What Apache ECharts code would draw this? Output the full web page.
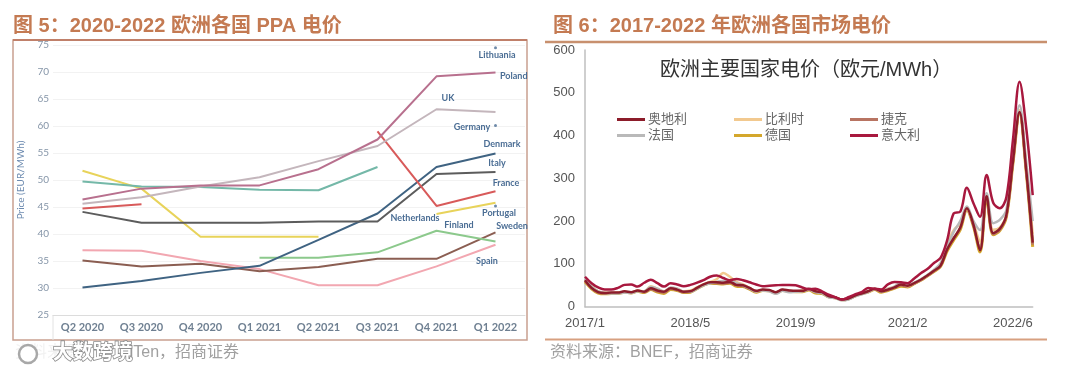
<!DOCTYPE html>
<html><head><meta charset="utf-8">
<script src="https://cdn.jsdelivr.net/npm/echarts@6/dist/echarts.min.js"></script>
<style>html,body{margin:0;padding:0;background:#fff}#c{width:1080px;height:374px}</style>
</head><body><div id="c"></div>
<script>
// ---------- Figure 5: PPA prices (EUR/MWh) ----------
const ppaQuarters = ['Q2 2020','Q3 2020','Q4 2020','Q1 2021','Q2 2021','Q3 2021','Q4 2021','Q1 2022'];
const ppaYTicks = [25,30,35,40,45,50,55,60,65,70,75];
const ppaPoland      = [46.4, 48.4, 49.0, 49.0, 52.0, 57.5, 69.2, 69.9];
const ppaUK          = [45.6, 46.8, 48.8, 50.5, 53.5, 56.3, 63.1, 62.6];
const ppaFrance      = [44.7, 45.5, null, null, null, 59.0, 45.2, 47.9];
const ppaItaly       = [44.1, 42.1, 42.1, 42.1, 42.3, 42.3, 51.1, 51.5];
const ppaDenmark     = [30.1, 31.3, 32.8, 34.1, 38.9, 43.8, 52.4, 54.9];
const ppaGermany     = [49.7, 48.8, 48.7, 48.2, 48.1, 52.4, null, null];
const ppaNetherlands = [51.7, 48.4, 39.5, 39.5, 39.5, null, 43.7, 45.8];
const ppaFinland     = [null, null, null, 35.6, 35.6, 36.6, 40.6, 38.6];
const ppaSweden      = [35.1, 34.0, 34.5, 33.1, 33.9, 35.4, 35.4, 40.3];
const ppaSpain       = [37.0, 36.9, 35.0, 33.5, 30.5, 30.5, 34.0, 38.0];
const ppaLithuaniaPt = [null, null, null, null, null, null, null, 74.5];
const ppaGermanyPt   = [null, null, null, null, null, null, null, 60.1];
const ppaPortugalPt  = [null, null, null, null, null, null, null, 45.2];

// ---------- Figure 6: market prices (EUR/MWh), monthly ----------
const mktMonths = [];
for (let y = 2017; y <= 2022; y++) for (let m = 1; m <= 12; m++) { if (y === 2022 && m > 9) break; mktMonths.push(y + '/' + m); }
const mktTickLabels = ['2017/1','2018/5','2019/9','2021/2','2022/6'];
const mktYTicks = [0,100,200,300,400,500,600];
const mktAustria = [62,44,34,32,33,33,36,34,38,35,43,38, 35,43,40,35,36,44,52,57,57,56,58,51, 50,44,37,40,39,34,40,38,37,37,42,36, 34,25,22,17,19,26,31,36,42,36,40,45, 52,49,55,63,73,84,96,134,160,185,230,192, 132,258,172,182,214,340,455,322,150];
const mktBelgium = [64,48,36,33,32,33,34,33,37,36,48,42, 36,44,42,36,38,45,52,58,64,79,70,58, 52,44,36,38,37,32,38,36,36,38,41,36, 34,24,21,16,18,25,30,35,42,37,42,46, 54,48,55,63,73,85,100,150,179,195,228,195, 152,260,180,185,215,345,460,330,170];
const mktCzech   = [60,43,33,31,32,32,35,33,37,34,41,36, 33,42,39,34,35,43,51,56,55,54,56,50, 48,42,35,39,38,33,39,37,36,36,40,34, 32,24,21,16,18,25,30,35,41,35,39,44, 50,47,54,62,72,83,95,134,160,184,228,190, 135,257,170,180,212,338,455,320,145];
const mktFrance  = [65,47,36,32,31,31,33,32,36,36,46,42, 35,45,42,35,35,42,50,55,58,60,62,55, 50,43,36,38,36,30,37,34,35,36,40,34, 32,22,20,15,17,24,29,34,42,36,41,47, 56,50,56,64,74,86,102,140,175,200,234,200, 179,265,195,203,226,358,471,340,200];
const mktGermany = [58,42,32,30,31,31,34,32,36,33,40,34, 31,40,38,33,34,42,50,55,54,53,55,48, 47,41,34,38,37,32,38,36,35,35,39,32, 31,23,21,16,18,25,30,34,40,34,38,43, 48,46,54,62,72,82,94,130,156,180,226,188, 128,255,168,178,210,335,452,318,140];
const mktItaly   = [70,55,45,40,40,44,51,52,47,56,63,55, 47,55,52,48,51,56,62,70,73,67,62,65, 62,57,52,48,49,50,51,51,50,45,41,42, 36,28,22,17,22,29,34,44,42,40,52,58, 57,55,66,78,88,102,114,155,218,222,278,242, 210,308,243,230,256,390,526,420,261];

const CJK = "'Liberation Sans','Noto Sans CJK SC',sans-serif";
const LAT = "Lato,'Liberation Sans',sans-serif";

function ppaLine(name, data, color) {
  return { name, type: 'line', xAxisIndex: 0, yAxisIndex: 0, data, symbol: 'none',
    connectNulls: false, lineStyle: { color, width: 2 }, itemStyle: { color }, z: 3 };
}
function ppaDot(name, data) {
  return { name, type: 'scatter', xAxisIndex: 0, yAxisIndex: 0, data, symbolSize: 3,
    itemStyle: { color: '#4a6d94' }, z: 4 };
}
function mktLine(name, data, color, width) {
  return { name, type: 'line', xAxisIndex: 1, yAxisIndex: 1, data, symbol: 'none',
    smooth: 0.35, lineStyle: { color, width: width || 2.5 }, itemStyle: { color } };
}

const annot = [
  ['Lithuania', 497, 55, 'center'], ['Poland', 500, 76, 'left'],
  ['UK', 448, 98, 'center'], ['Germany', 472, 127, 'center'], ['Denmark', 502, 144, 'center'],
  ['Italy', 497, 163, 'center'], ['France', 506, 183, 'center'], ['Netherlands', 415, 218, 'center'],
  ['Portugal', 499, 213, 'center'], ['Finland', 459, 225, 'center'], ['Sweden', 512, 226, 'center'],
  ['Spain', 487, 261, 'center']
];

const graphics = [
  { type: 'text', left: 13, top: 16, style: { text: '图 5：2020-2022 欧洲各国 PPA 电价', font: 'bold 20px ' + CJK, fill: '#c47a52' } },
  { type: 'text', left: 553, top: 16, style: { text: '图 6：2017-2022 年欧洲各国市场电价', font: 'bold 20px ' + CJK, fill: '#c47a52' } },
  { type: 'rect', shape: { x: 13, y: 40, width: 514, height: 300 }, style: { fill: 'none', stroke: '#c9a090', lineWidth: 1.5 } },
  { type: 'line', shape: { x1: 13, y1: 40, x2: 527, y2: 40 }, style: { stroke: '#c0806a', lineWidth: 2 } },
  { type: 'line', shape: { x1: 53, y1: 315, x2: 53, y2: 340 }, style: { stroke: '#e2e2e2', lineWidth: 1 } },
  { type: 'line', shape: { x1: 545, y1: 42, x2: 1047, y2: 42 }, style: { stroke: '#c8906e', lineWidth: 2.5 } },
  { type: 'line', shape: { x1: 545, y1: 339.5, x2: 1047, y2: 339.5 }, style: { stroke: '#d7a080', lineWidth: 2 } },
  { type: 'text', left: 15, top: 345, style: { text: '资料来源：LevelTen，招商证券', font: '16px ' + CJK, fill: '#a0a0a0' } },
  { type: 'text', left: 550, top: 345, style: { text: '资料来源：BNEF，招商证券', font: '16px ' + CJK, fill: '#a0a0a0' } },
  { type: 'rect', shape: { x: 10, y: 342, width: 118, height: 24 }, style: { fill: 'rgba(255,255,255,0.85)' }, z: 20 },
  { type: 'circle', shape: { cx: 28, cy: 354, r: 9 }, style: { fill: '#fff', stroke: '#a8a8a8', lineWidth: 2.5 }, z: 21 },
  { type: 'text', left: 52, top: 343, z: 21, style: { text: '大数跨境', font: 'bold 20px ' + CJK, fill: '#ffffff', stroke: '#8c8c8c', lineWidth: 1.6 } }
];
annot.forEach(a => graphics.push({ type: 'text', x: a[1], y: a[2], z: 10,
  style: { text: a[0], font: 'bold 9px ' + LAT, fill: '#4a6d94', align: a[3], verticalAlign: 'middle', textAlign: a[3], textVerticalAlign: 'middle' } }));

const chart = echarts.init(document.getElementById('c'), null, { renderer: 'canvas' });
const legendBase = { orient: 'vertical', icon: 'rect', itemWidth: 28, itemHeight: 3, itemGap: 3,
  textStyle: { color: '#666', fontSize: 13, fontFamily: CJK, padding: [0, 0, 0, -2] }, selectedMode: false };
chart.setOption({
  backgroundColor: '#fff',
  animation: false,
  title: { text: '欧洲主要国家电价（欧元/MWh）', left: 655, top: 55,
    textStyle: { fontSize: 20, fontWeight: 'normal', color: '#333', fontFamily: CJK } },
  legend: [
    Object.assign({}, legendBase, { data: ['奥地利', '法国'], left: 612, top: 108 }),
    Object.assign({}, legendBase, { data: ['比利时', '德国'], left: 729, top: 108 }),
    Object.assign({}, legendBase, { data: ['捷克', '意大利'], left: 845, top: 108 })
  ],
  grid: [
    { left: 53, top: 45, width: 472, height: 270 },
    { left: 585, top: 50, width: 447.7, height: 256.7 }
  ],
  xAxis: [
    { type: 'category', gridIndex: 0, data: ppaQuarters, boundaryGap: true,
      axisLine: { lineStyle: { color: '#dcdcdc' } }, axisTick: { show: false },
      axisLabel: { color: '#6e7f91', fontSize: 11, fontWeight: 'bold', fontFamily: LAT, margin: 7 } },
    { type: 'category', gridIndex: 1, data: mktMonths, boundaryGap: false,
      axisLine: { lineStyle: { color: '#bfbfbf', width: 1.5 } }, axisTick: { show: false },
      axisLabel: { color: '#555', fontSize: 13, fontFamily: CJK, margin: 10,
        interval: (i, v) => mktTickLabels.indexOf(v) >= 0 } }
  ],
  yAxis: [
    { type: 'value', gridIndex: 0, min: ppaYTicks[0], max: ppaYTicks[ppaYTicks.length - 1], interval: 5,
      name: 'Price (EUR/MWh)', nameLocation: 'middle', nameGap: 27, nameRotate: 90,
      nameTextStyle: { color: '#6d8bb0', fontSize: 10, fontFamily: LAT },
      axisLine: { show: false }, axisTick: { show: false },
      axisLabel: { color: '#8595a8', fontSize: 10, fontFamily: LAT, margin: 4 },
      splitLine: { lineStyle: { color: '#f2f2f2' } } },
    { type: 'value', gridIndex: 1, min: mktYTicks[0], max: mktYTicks[mktYTicks.length - 1], interval: 100,
      axisLine: { show: true, lineStyle: { color: '#bfbfbf', width: 1.5 } }, axisTick: { show: false },
      axisLabel: { color: '#555', fontSize: 13, fontFamily: CJK, margin: 10 },
      splitLine: { show: false } }
  ],
  series: [
    ppaLine('Spain', ppaSpain, '#f2a7b1'),
    ppaLine('Sweden', ppaSweden, '#8b5e52'),
    ppaLine('Finland', ppaFinland, '#8cc98c'),
    ppaLine('Netherlands', ppaNetherlands, '#e8d35a'),
    ppaLine('Germany', ppaGermany, '#74b8a8'),
    ppaLine('Denmark', ppaDenmark, '#3f6382'),
    ppaLine('Italy', ppaItaly, '#5c5c5c'),
    ppaLine('France', ppaFrance, '#d85a5a'),
    ppaLine('UK', ppaUK, '#c4b6bc'),
    ppaLine('Poland', ppaPoland, '#b8708e'),
    ppaDot('Lithuania *', ppaLithuaniaPt),
    ppaDot('Germany *', ppaGermanyPt),
    ppaDot('Portugal *', ppaPortugalPt),
    mktLine('德国', mktGermany, '#d4a72c', 3),
    mktLine('捷克', mktCzech, '#b87462'),
    mktLine('比利时', mktBelgium, '#f2c98f'),
    mktLine('法国', mktFrance, '#b9b9b9'),
    mktLine('奥地利', mktAustria, '#8c1c2a'),
    mktLine('意大利', mktItaly, '#a8183e')
  ],
  graphic: graphics
});
</script></body></html>
